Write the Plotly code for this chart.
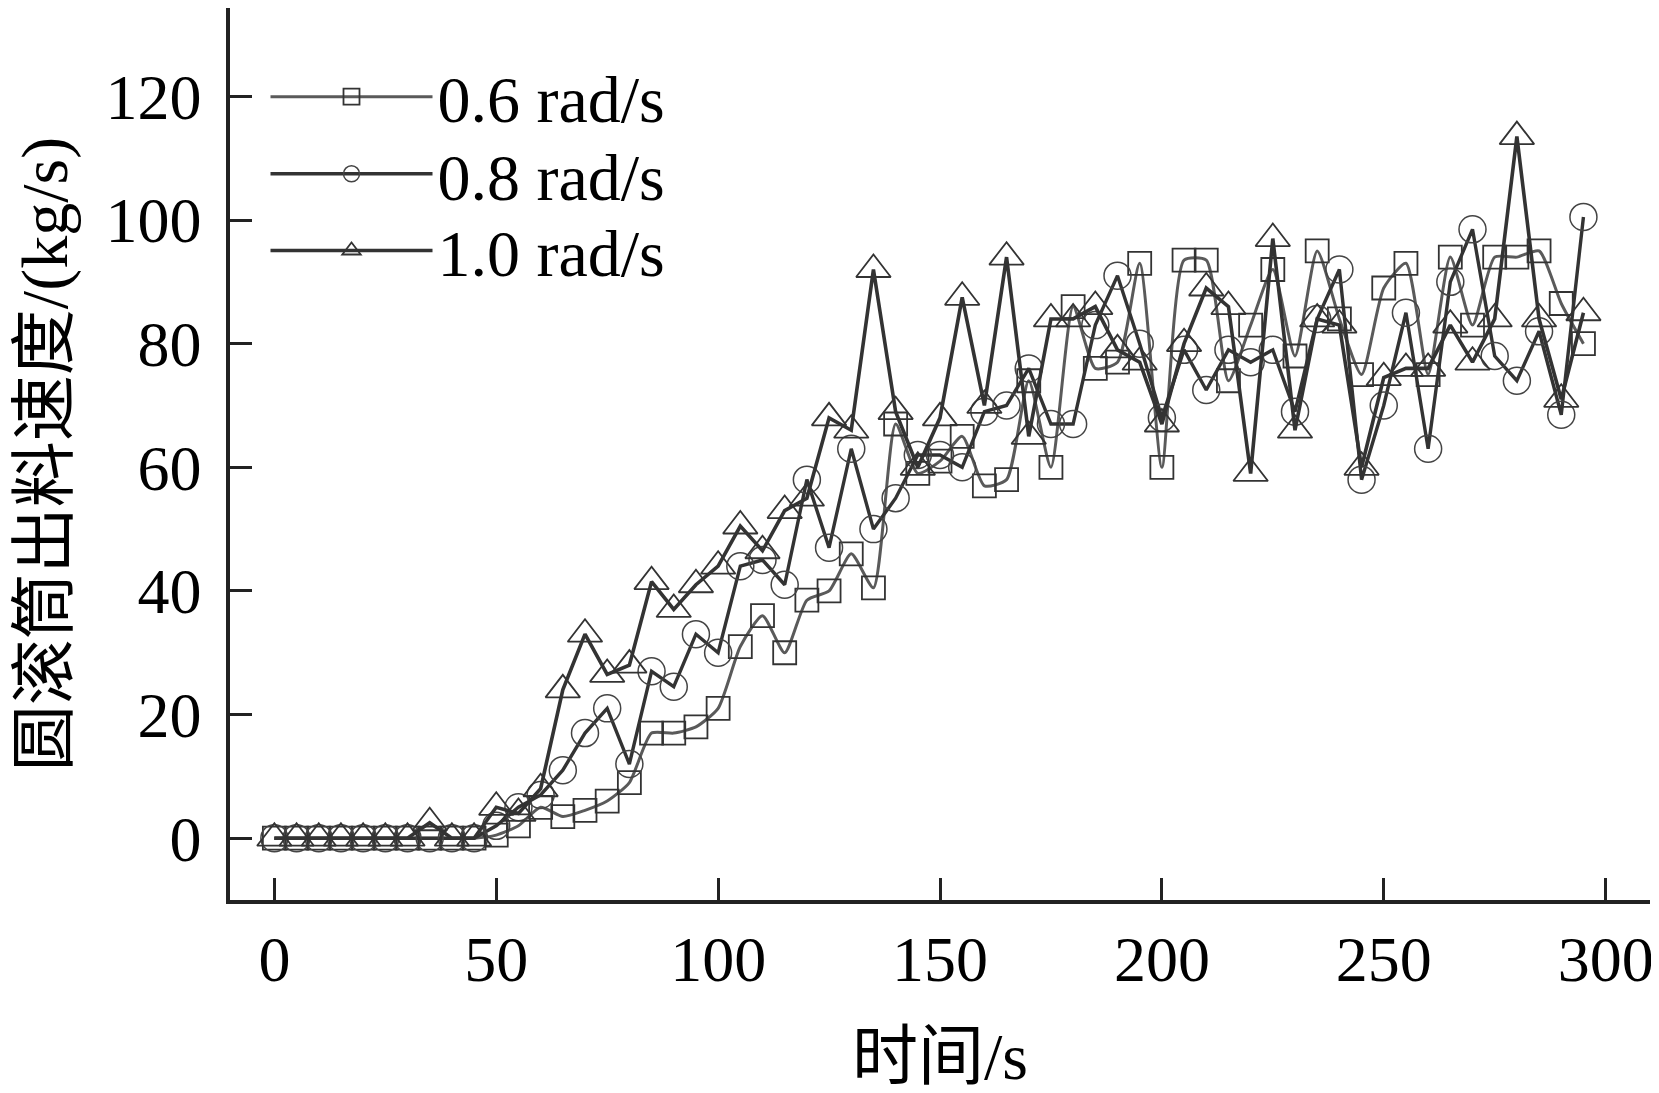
import plotly.graph_objects as go

time_s = list(range(0, 300, 5))

rate_06 = [0, 0, 0, 0, 0, 0, 0, 0, 0, 0,
           0.5, 2, 5, 3.5, 4.5, 6, 9, 17, 17, 18,
           21, 31, 36, 30, 38.5, 40, 46, 40.5, 67, 59,
           61, 65, 57, 58, 74, 60, 86, 76, 77, 93,
           60, 93.5, 93.5, 74, 83, 92, 78, 95, 84, 75,
           89, 93, 75, 94, 83, 94, 94, 95, 86.5, 80]

rate_08 = [0, 0, 0, 0, 0, 0, 0, 0, 0, 0,
           2, 5, 7, 11, 17, 21, 12, 27, 24.5, 33,
           30, 44, 45, 41, 58, 47, 63, 50, 55, 62,
           62, 60, 69, 70, 76, 67, 67, 83, 91, 80,
           68, 79, 72.5, 79, 77, 79, 69, 84, 92, 58,
           70, 85, 63, 90, 98.5, 78, 74, 82, 68.5, 100.5]

rate_10 = [0, 0, 0, 0, 0, 0, 0, 2.5, 0, 0,
           5, 4, 8, 24, 33, 26.5, 28, 41.5, 37, 41,
           44, 50.5, 46.5, 53, 55, 68, 66, 92, 69, 60,
           68, 87.5, 70, 94, 65, 84, 84, 86, 79, 77,
           67, 80, 89, 86, 59, 97, 66, 84, 83, 60,
           74.5, 76, 76, 83, 77, 84, 113.5, 84, 71, 85]

series_names = ["0.6 rad/s", "0.8 rad/s", "1.0 rad/s"]

x_ticks = [0, 50, 100, 150, 200, 250, 300]
y_ticks = [0, 20, 40, 60, 80, 100, 120]

FONT = "Liberation Serif, Times New Roman, Noto Sans CJK SC, serif"

fig = go.Figure()
fig.add_trace(go.Scatter(
    x=time_s, y=rate_06, name=series_names[0], mode="lines+markers", legend="legend",
    line=dict(color="#5a5a5a", width=3, shape="spline", smoothing=0.6),
    marker=dict(symbol="square-open", size=23, color="#333333", line=dict(width=1.8)),
))
fig.add_trace(go.Scatter(
    x=time_s, y=rate_08, name=series_names[1], mode="lines+markers", legend="legend2",
    line=dict(color="#333333", width=3.4),
    marker=dict(symbol="circle-open", size=27, color="#444444", line=dict(width=1.5)),
))
fig.add_trace(go.Scatter(
    x=time_s, y=rate_10, name=series_names[2], mode="lines+markers", legend="legend3",
    line=dict(color="#333333", width=3.6),
    marker=dict(symbol="triangle-up-open", size=30, color="#333333", line=dict(width=1.8)),
))

leg_common = dict(x=0.025, xanchor="left", yanchor="middle",
                  bgcolor="rgba(0,0,0,0)", font=dict(size=66, family=FONT),
                  itemwidth=162)

fig.update_layout(
    width=1651, height=1085,
    margin=dict(l=222, r=9, t=0, b=193),
    paper_bgcolor="white", plot_bgcolor="white",
    font=dict(family=FONT, size=64, color="black"),
    showlegend=True,
    legend=dict(y=0.9005, **leg_common),
    legend2=dict(y=0.814, **leg_common),
    legend3=dict(y=0.728, **leg_common),
)
fig.update_xaxes(
    range=[-10, 310], tickvals=x_ticks, ticks="inside", ticklen=22, tickwidth=3,
    tickcolor="#222222", showline=True, linecolor="#222222", linewidth=3.5,
    showgrid=False, zeroline=False, automargin=False,
    title=dict(text="时间/s", font=dict(size=66, family=FONT), standoff=42),
    tickfont=dict(size=64, family=FONT),
)
fig.update_yaxes(
    range=[-10, 134.3], tickvals=y_ticks, ticks="inside", ticklen=22, tickwidth=3,
    tickcolor="#222222", showline=True, linecolor="#222222", linewidth=3.5,
    showgrid=False, zeroline=False, automargin=False, ticklabelstandoff=12,
    title=dict(text="圆滚筒出料速度/(kg/s)", font=dict(size=66, family=FONT), standoff=42),
    tickfont=dict(size=64, family=FONT),
)

fig.write_html("out.html")
